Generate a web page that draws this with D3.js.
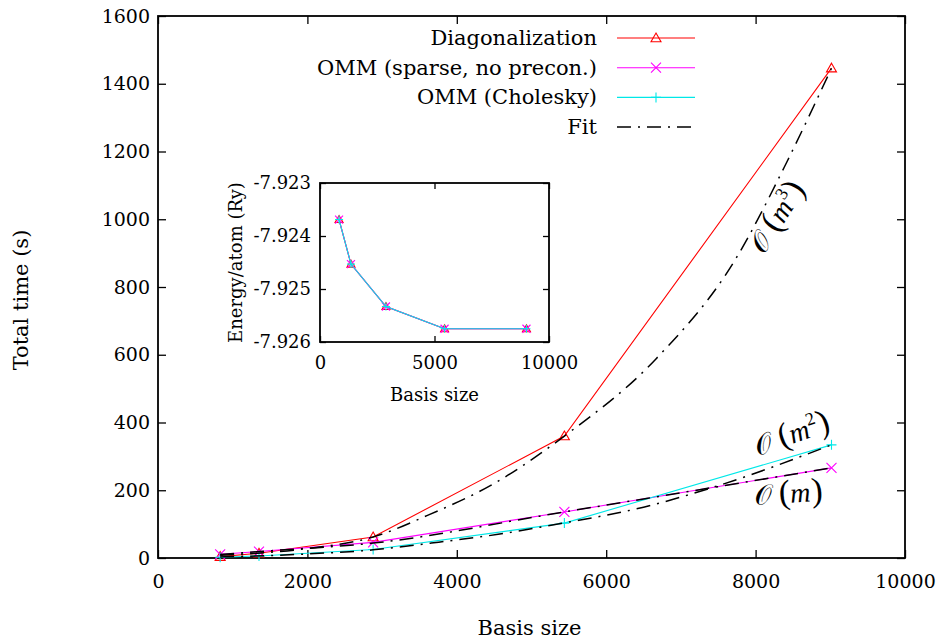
<!DOCTYPE html>
<html>
<head>
<meta charset="utf-8">
<script src="https://cdn.jsdelivr.net/npm/d3@7"></script>
<style>
  body { margin: 0; background: #fff; }
</style>
</head>
<body>
<div id="chart"></div>
<script>
// ---- data ----
var basisSizes = [832, 1352, 2880, 5440, 9016];
var diagTime = [4, 14, 62, 360, 1446];
var ommSparseTime = [11, 19, 46, 136, 266];
var ommCholTime = [2, 6, 25, 103, 334];

// energies (inset), the three methods give the same numbers
var diagEnergy = [-7.92369, -7.92453, -7.92533, -7.92575, -7.92575];
var ommSparseEnergy = [-7.92369, -7.92453, -7.92533, -7.92575, -7.92575];
var ommCholEnergy = [-7.92369, -7.92453, -7.92533, -7.92575, -7.92575];

// fit curves
var fitCubicX = [832, 2000, 2880, 3600, 4500, 5440, 6650, 7717, 8425, 9016];
var fitCubicY = [8, 28, 62, 125, 220, 360, 584, 877, 1172, 1446];
var fitQuadX = [832, 2000, 2880, 3658, 4553, 5420, 6500, 7450, 9016];
var fitQuadY = [3, 12, 24, 44, 70, 103, 150, 210, 334];
var fitLinX = [832, 1352, 2880, 5440, 9016];
var fitLinY = [10, 19, 44, 136, 266];

var legendLabels = ["Diagonalization", "OMM (sparse, no precon.)", "OMM (Cholesky)", "Fit"];
var xTicks = [0, 2000, 4000, 6000, 8000, 10000];
var yTicks = [0, 200, 400, 600, 800, 1000, 1200, 1400, 1600];
var insetXTicks = [0, 5000, 10000];
var insetYTicks = [-7.923, -7.924, -7.925, -7.926];

var colors = {diag: "#ff0000", sparse: "#ff00ff", chol: "#00e8e8", fit: "#000"};
var fitDash = "14,7,2,7";
var serif = "'DejaVu Serif', serif";
var mathFont = "'Liberation Serif', serif";

var width = 940, height = 640;
var svg = d3.select("#chart").append("svg")
    .attr("width", width)
    .attr("height", height)
    .style("font-family", serif);

var plot = {left: 158, right: 905, top: 16, bottom: 558};

var x = d3.scaleLinear().domain([0, 10000]).range([plot.left, plot.right]);
var y = d3.scaleLinear().domain([0, 1600]).range([plot.bottom, plot.top]);

// axes, ticks pointing inwards and mirrored
function styleAxis(g) {
    g.attr("font-family", null).attr("font-size", null);
    g.select(".domain").remove();
    g.selectAll("line").attr("stroke", "#000").attr("stroke-width", 1.3);
    g.selectAll("text").style("font-size", "19px").attr("fill", "#000");
}

svg.append("g")
    .attr("transform", "translate(0," + plot.bottom + ")")
    .call(d3.axisBottom(x).tickValues(xTicks).tickFormat(d3.format("d"))
        .tickSizeInner(-8).tickSizeOuter(0).tickPadding(17))
    .call(styleAxis);
svg.append("g")
    .attr("transform", "translate(0," + plot.top + ")")
    .call(d3.axisTop(x).tickValues(xTicks).tickFormat("")
        .tickSizeInner(-8).tickSizeOuter(0))
    .call(styleAxis);
svg.append("g")
    .attr("transform", "translate(" + plot.left + ",0)")
    .call(d3.axisLeft(y).tickValues(yTicks).tickFormat(d3.format("d"))
        .tickSizeInner(-8).tickSizeOuter(0).tickPadding(8))
    .call(styleAxis);
svg.append("g")
    .attr("transform", "translate(" + plot.right + ",0)")
    .call(d3.axisRight(y).tickValues(yTicks).tickFormat("")
        .tickSizeInner(-8).tickSizeOuter(0))
    .call(styleAxis);

svg.append("rect")
    .attr("x", plot.left).attr("y", plot.top)
    .attr("width", plot.right - plot.left)
    .attr("height", plot.bottom - plot.top)
    .attr("fill", "none").attr("stroke", "#000").attr("stroke-width", 1.8);

svg.append("text")
    .attr("x", (plot.left + plot.right) / 2 - 2).attr("y", 635)
    .attr("text-anchor", "middle")
    .style("font-size", "21px")
    .text("Basis size");
svg.append("text")
    .attr("transform", "translate(28," + ((plot.top + plot.bottom) / 2 + 13) + ") rotate(-90)")
    .attr("text-anchor", "middle")
    .style("font-size", "21px")
    .text("Total time (s)");

// markers
function drawMarker(g, kind, cx, cy, color, s) {
    if (kind == "tri") {
        g.append("path")
            .attr("d", "M" + cx + "," + (cy - s) + "L" + (cx + s) + "," + (cy + s * 0.75) +
                "L" + (cx - s) + "," + (cy + s * 0.75) + "Z")
            .attr("fill", "none").attr("stroke", color).attr("stroke-width", 1.1);
    }
    else if (kind == "x") {
        g.append("path")
            .attr("d", "M" + (cx - s) + "," + (cy - s) + "L" + (cx + s) + "," + (cy + s) +
                "M" + (cx - s) + "," + (cy + s) + "L" + (cx + s) + "," + (cy - s))
            .attr("stroke", color).attr("stroke-width", 1.1);
    }
    else {
        g.append("path")
            .attr("d", "M" + (cx - s) + "," + cy + "L" + (cx + s) + "," + cy +
                "M" + cx + "," + (cy - s) + "L" + cx + "," + (cy + s))
            .attr("stroke", color).attr("stroke-width", 1.1);
    }
}

function drawSeries(g, xs, ys, xScale, yScale, color, kind, size) {
    var pts = xs.map(function (d, i) { return [xScale(d), yScale(ys[i])]; });
    g.append("path")
        .attr("d", d3.line()(pts))
        .attr("fill", "none").attr("stroke", color).attr("stroke-width", 1.1);
    pts.forEach(function (p) { drawMarker(g, kind, p[0], p[1], color, size); });
}

var main = svg.append("g");
drawSeries(main, basisSizes, diagTime, x, y, colors.diag, "tri", 5);
drawSeries(main, basisSizes, ommSparseTime, x, y, colors.sparse, "x", 5);
drawSeries(main, basisSizes, ommCholTime, x, y, colors.chol, "plus", 5);

// fit curves
var fitLine = d3.line().curve(d3.curveMonotoneX);
[[fitCubicX, fitCubicY], [fitQuadX, fitQuadY], [fitLinX, fitLinY]].forEach(function (f) {
    var pts = f[0].map(function (d, i) { return [x(d), y(f[1][i])]; });
    main.append("path")
        .attr("d", fitLine(pts))
        .attr("fill", "none").attr("stroke", colors.fit)
        .attr("stroke-width", 1.5).attr("stroke-dasharray", fitDash);
});

// legend
var legend = svg.append("g");
var legendKinds = [["tri", colors.diag], ["x", colors.sparse], ["plus", colors.chol], ["fit", colors.fit]];
legendLabels.forEach(function (lab, i) {
    var ly = 38 + i * 29.7;
    legend.append("text")
        .attr("x", 597).attr("y", ly + 7)
        .attr("text-anchor", "end")
        .style("font-size", "21px")
        .text(lab);
    var ln = legend.append("line")
        .attr("x1", 617).attr("x2", 695).attr("y1", ly).attr("y2", ly)
        .attr("stroke", legendKinds[i][1]);
    if (legendKinds[i][0] == "fit") {
        ln.attr("stroke-width", 1.5).attr("stroke-dasharray", fitDash);
    } else {
        ln.attr("stroke-width", 1.1);
        drawMarker(legend, legendKinds[i][0], 656, ly, legendKinds[i][1], 5);
    }
});

// order annotations, O(m^k)
function bigO(cx, cy, angle, sup) {
    var t = svg.append("text")
        .attr("transform", "translate(" + cx + "," + cy + ") rotate(" + angle + ")")
        .attr("text-anchor", "middle")
        .style("font-family", mathFont)
        .style("font-size", "28px");
    t.append("tspan").text("\u{1D4AA}");
    t.append("tspan").attr("dx", 7).style("font-size", "34px").text("(");
    t.append("tspan").style("font-style", "italic").text("m");
    if (sup) {
        t.append("tspan").attr("dy", -12).style("font-size", "18px").text(sup);
        t.append("tspan").attr("dy", 12).attr("dx", 1).style("font-size", "34px").text(")");
    } else {
        t.append("tspan").attr("dx", 1).style("font-size", "34px").text(")");
    }
}
bigO(785, 222, -58, "3");
bigO(795, 443, -19, "2");
bigO(789, 503, -4, null);

// ---- inset ----
var inset = {left: 320, right: 549, top: 183, bottom: 342};
var ix = d3.scaleLinear().domain([0, 10000]).range([inset.left, inset.right]);
var iy = d3.scaleLinear().domain([-7.926, -7.923]).range([inset.bottom, inset.top]);

function styleInset(g) {
    g.attr("font-family", null).attr("font-size", null);
    g.select(".domain").remove();
    g.selectAll("line").attr("stroke", "#000").attr("stroke-width", 1.3);
    g.selectAll("text").style("font-size", "18px").attr("fill", "#000");
}
svg.append("g")
    .attr("transform", "translate(0," + inset.bottom + ")")
    .call(d3.axisBottom(ix).tickValues(insetXTicks).tickFormat(d3.format("d"))
        .tickSizeInner(-6).tickSizeOuter(0).tickPadding(14))
    .call(styleInset);
svg.append("g")
    .attr("transform", "translate(0," + inset.top + ")")
    .call(d3.axisTop(ix).tickValues(insetXTicks).tickFormat("")
        .tickSizeInner(-6).tickSizeOuter(0))
    .call(styleInset);
svg.append("g")
    .attr("transform", "translate(" + inset.left + ",0)")
    .call(d3.axisLeft(iy).tickValues(insetYTicks)
        .tickFormat(function (d) { return d.toFixed(3); })
        .tickSizeInner(-6).tickSizeOuter(0).tickPadding(9))
    .call(styleInset);
svg.append("g")
    .attr("transform", "translate(" + inset.right + ",0)")
    .call(d3.axisRight(iy).tickValues(insetYTicks).tickFormat("")
        .tickSizeInner(-6).tickSizeOuter(0))
    .call(styleInset);
svg.append("rect")
    .attr("x", inset.left).attr("y", inset.top)
    .attr("width", inset.right - inset.left)
    .attr("height", inset.bottom - inset.top)
    .attr("fill", "none").attr("stroke", "#000").attr("stroke-width", 1.8);

var ig = svg.append("g");
drawSeries(ig, basisSizes, diagEnergy, ix, iy, colors.diag, "tri", 4);
drawSeries(ig, basisSizes, ommSparseEnergy, ix, iy, colors.sparse, "x", 4);
drawSeries(ig, basisSizes, ommCholEnergy, ix, iy, colors.chol, "plus", 4);

svg.append("text")
    .attr("x", (inset.left + inset.right) / 2).attr("y", 401)
    .attr("text-anchor", "middle")
    .style("font-size", "18px")
    .text("Basis size");
svg.append("text")
    .attr("transform", "translate(242," + ((inset.top + inset.bottom) / 2) + ") rotate(-90)")
    .attr("text-anchor", "middle")
    .style("font-size", "18px")
    .text("Energy/atom (Ry)");
</script>
</body>
</html>
